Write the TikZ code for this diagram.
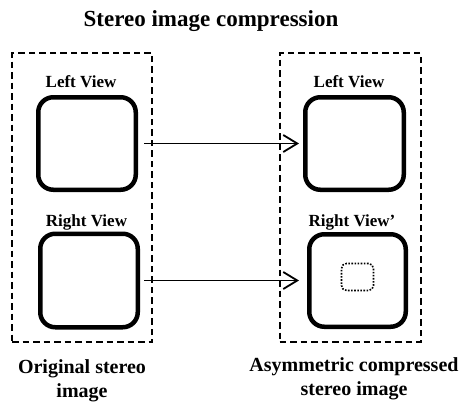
\documentclass[tikz,border=0pt]{standalone}
\usepackage{fontspec}
\setmainfont{Liberation Serif}
\usetikzlibrary{arrows.meta}
\begin{document}
\begin{tikzpicture}[x=1pt,y=-1pt,
  viewbox/.style={draw,line width=4.5pt,rounded corners=15pt,minimum width=97.5pt,minimum height=92.5pt,inner sep=0pt},
  groupbox/.style={draw,line width=2pt,dash pattern=on 6.5pt off 4pt,minimum width=140pt,minimum height=289pt,inner sep=0pt},
  lbl/.style={anchor=base,inner sep=0pt,font=\bfseries\fontsize{17}{20}\selectfont},
  captxt/.style={anchor=base,inner sep=0pt,align=center,font=\bfseries\fontsize{20}{24}\selectfont},
  conn/.style={line width=1.8pt,-{Straight Barb[length=14pt,width=17pt,line width=1.8pt]}}]
\useasboundingbox (0,0) rectangle (460,402);
\node[anchor=base,inner sep=0pt,font=\bfseries\fontsize{23}{26}\selectfont] (title) at (211,26) {Stereo image compression};
\node[groupbox] (G1) at (82,197.5) {};
\node[groupbox,minimum width=141pt] (G2) at (350,197.5) {};
\node[viewbox] (L1) at (87,143.5) {};
\node[viewbox,minimum height=93.5pt] (L2) at (89,280.5) {};
\node[viewbox,minimum width=98.5pt] (R1) at (354.5,143.5) {};
\node[viewbox,minimum width=96.5pt] (R2) at (357.5,280.5) {};
\node[draw,line width=1.6pt,dash pattern=on 1.6pt off 1.5pt,rounded corners=5pt,minimum width=32pt,minimum height=27pt,inner sep=0pt] (q) at (357.5,277) {};
\node[lbl] (t1) at (81,87) {Left View};
\node[lbl] (t2) at (86.5,226) {Right View};
\node[lbl] (t3) at (349,87) {Left View};
\node[lbl] (t4) at (352,226) {Right View’};
\node[captxt] (c1) at (82,397) {Original stereo\\image};
\node[captxt] (c2) at (354,395) {Asymmetric compressed\\stereo image};
\draw[conn,shorten <=6pt,shorten >=4pt] (L1.east) -- (R1.west);
\draw[conn,shorten <=4pt,shorten >=8pt] (L2.east) -- (R2.west);
\end{tikzpicture}
\end{document}
